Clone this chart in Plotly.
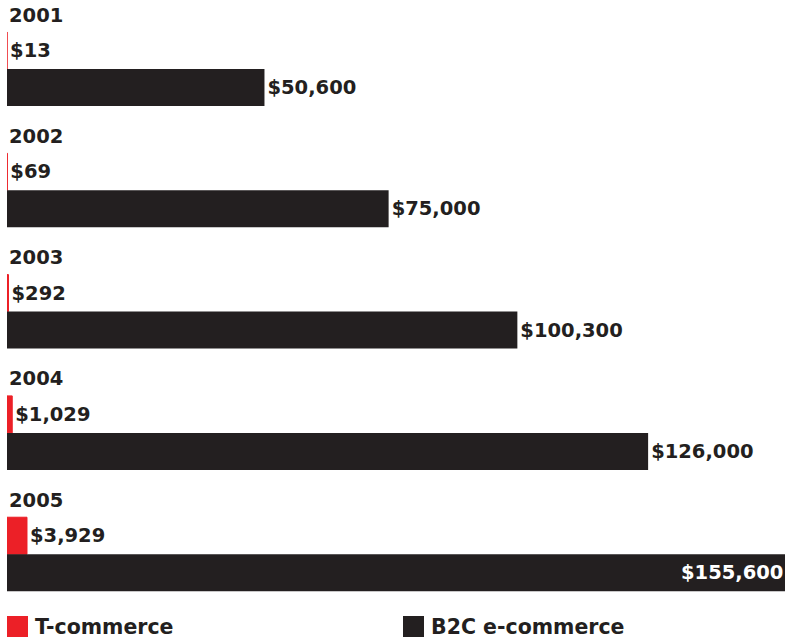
import plotly.graph_objects as go

# Revenue by year (US$ millions)
years = ["2001", "2002", "2003", "2004", "2005"]
t_commerce = [13, 69, 292, 1029, 3929]
b2c_ecommerce = [50600, 75000, 100300, 126000, 155600]

series_names = ["T-commerce", "B2C e-commerce"]
RED = "#ec2027"
INK = "#231f20"
FONT = "DejaVu Sans"


def money(v):
    return "${:,}".format(v)


fig = go.Figure()

fig.add_trace(go.Bar(
    y=years, x=t_commerce, orientation="h", name=series_names[0],
    marker=dict(color=RED, line=dict(color=RED, width=1)),
    text=[money(v) for v in t_commerce], textposition="outside",
    textfont=dict(family=FONT, size=19.5, color=INK, weight="bold"),
    showlegend=False, hoverinfo="skip",
))

# The longest bar runs past the right edge, so its value sits inside it
longest = max(b2c_ecommerce)
fig.add_trace(go.Bar(
    y=years, x=b2c_ecommerce, orientation="h", name=series_names[1],
    marker=dict(color=INK, line=dict(width=0)),
    text=["" if v == longest else money(v) for v in b2c_ecommerce],
    textposition="outside",
    textfont=dict(family=FONT, size=19.5, color=INK, weight="bold"),
    showlegend=False, hoverinfo="skip",
))
i_long = b2c_ecommerce.index(longest)
fig.add_annotation(
    x=1, y=i_long + 0.153, xref="paper", yref="y", text=money(longest),
    showarrow=False, xanchor="right", yanchor="middle", xshift=0,
    font=dict(family=FONT, size=19.5, color="white", weight="bold"),
)

# Year headings above each pair of bars
for i, yr in enumerate(years):
    fig.add_annotation(
        x=0, y=i - 0.445, xref="x", yref="y", text=yr, showarrow=False,
        xanchor="left", yanchor="middle", xshift=0,
        font=dict(family=FONT, size=19.5, color=INK, weight="bold"),
    )

# Legend drawn as swatches with labels along the bottom
legend_items = [(series_names[0], RED, 0.0), (series_names[1], INK, 0.509)]
for label, color, x0 in legend_items:
    fig.add_shape(
        type="rect", xref="paper", yref="paper",
        x0=x0, x1=x0 + 21 / 778, y0=1 - 637 / 639, y1=1 - 616 / 639,
        fillcolor=color, line=dict(width=0),
    )
    fig.add_annotation(
        x=x0 + 26 / 778, y=1 - 627 / 639, xref="paper", yref="paper",
        text=label, showarrow=False, xanchor="left", yanchor="middle",
        font=dict(family=FONT, size=20.5, color=INK, weight="bold"),
    )

fig.update_layout(
    width=785, height=639,
    margin=dict(l=7, r=0, t=0, b=0),
    paper_bgcolor="white", plot_bgcolor="white",
    barmode="group", bargap=0.39, bargroupgap=0,
    xaxis=dict(range=[0, 152900], visible=False, fixedrange=True),
    yaxis=dict(type="category", range=[4.699, -0.569], visible=False, fixedrange=True),
    showlegend=False,
)

fig.write_html("out.html")
